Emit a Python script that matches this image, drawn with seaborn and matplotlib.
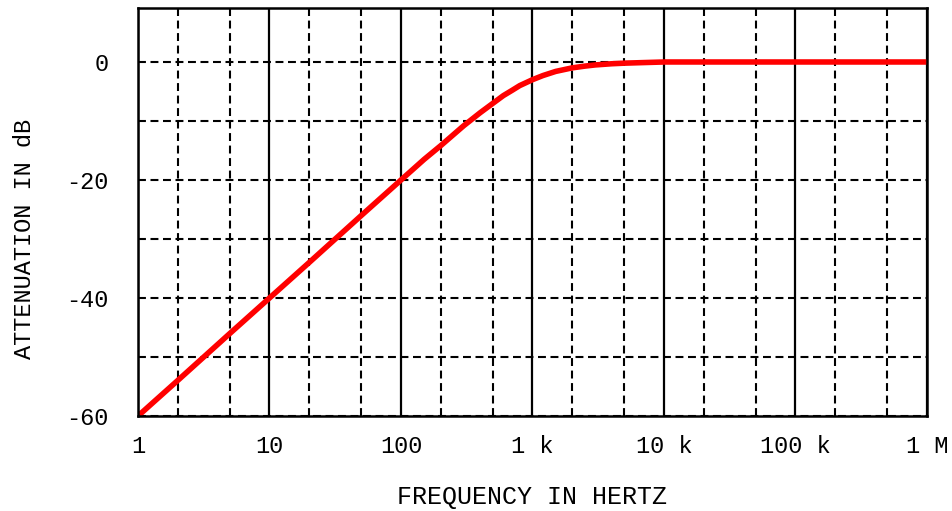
import matplotlib
matplotlib.use("Agg")
import matplotlib.pyplot as plt
import seaborn as sns
import pandas as pd
from matplotlib.ticker import FixedLocator, NullFormatter

# Values
freq_hz = [1, 2, 5, 10, 20, 50, 100, 150, 200, 300, 400, 500, 600, 700, 800,
           1000, 1200, 1500, 2000, 2500, 3000, 4000, 5000, 7000, 10000,
           100000, 1000000]
atten_db = [-60, -54, -46, -40, -34, -26, -20, -16.5, -14.2, -10.8, -8.6, -7.0,
            -5.7, -4.8, -4.0, -3.0, -2.3, -1.6, -1.0, -0.7, -0.5, -0.3, -0.2,
            -0.1, 0, 0, 0]

x_ticks = [1, 10, 100, 1000, 10000, 100000, 1000000]
x_tick_labels = ["1", "10", "100", "1 k", "10 k", "100 k", "1 M"]
x_minor = [2, 5, 20, 50, 200, 500, 2000, 5000, 20000, 50000, 200000, 500000]
y_ticks = [-60, -40, -20, 0]
y_tick_labels = ["-60", "-40", "-20", "0"]
y_minor = [-50, -30, -10]

df = pd.DataFrame({"freq": freq_hz, "db": atten_db})

sns.set_style("white")
plt.rcParams["font.family"] = ["Liberation Mono", "DejaVu Sans Mono"]
plt.rcParams["text.color"] = "black"
plt.rcParams["axes.labelcolor"] = "black"
plt.rcParams["xtick.color"] = "black"
plt.rcParams["ytick.color"] = "black"

fig = plt.figure(figsize=(9.53, 5.11), dpi=100)
ax = fig.add_axes([138 / 953, 1 - 416 / 511, (927 - 138) / 953, (416 - 8) / 511])

dash = (0, (3.8, 2.2))
ax.set_xscale("log")
ax.set_xlim(1, 1e6)
ax.set_ylim(-60, 9.15)

ax.xaxis.set_major_locator(FixedLocator(x_ticks))
ax.set_xticklabels(x_tick_labels)
ax.xaxis.set_minor_locator(FixedLocator(x_minor))
ax.xaxis.set_minor_formatter(NullFormatter())
ax.yaxis.set_major_locator(FixedLocator(y_ticks))
ax.set_yticklabels(y_tick_labels)
ax.yaxis.set_minor_locator(FixedLocator(y_minor))

ax.grid(which="major", axis="x", color="black", lw=1.6, ls="-")
ax.grid(which="minor", axis="x", color="black", lw=1.5, ls=dash)
ax.grid(which="both", axis="y", color="black", lw=1.5, ls=dash)
ax.set_axisbelow(True)

sns.lineplot(data=df, x="freq", y="db", ax=ax, color="#ff0000", lw=4.0,
             solid_capstyle="butt", zorder=3)

for s in ax.spines.values():
    s.set_color("black")
    s.set_linewidth(1.8)
    s.set_zorder(4)

ax.tick_params(which="both", length=0)
ax.tick_params(axis="x", pad=13.5, labelsize=17, labelcolor="black")
ax.tick_params(axis="y", pad=21, labelsize=17, labelcolor="black")

ax.set_xlabel("FREQUENCY IN HERTZ", fontsize=18, color="black")
ax.set_ylabel("ATTENUATION IN dB", fontsize=17, color="black")
ax.xaxis.set_label_coords(0.5, (416 - 497) / 408, transform=ax.transAxes)
ax.xaxis.label.set_va("center")
ax.yaxis.set_label_coords((25 - 138) / 789, (416 - 239) / 408, transform=ax.transAxes)
ax.yaxis.label.set_va("center")

fig.savefig("out.png", dpi=100)
